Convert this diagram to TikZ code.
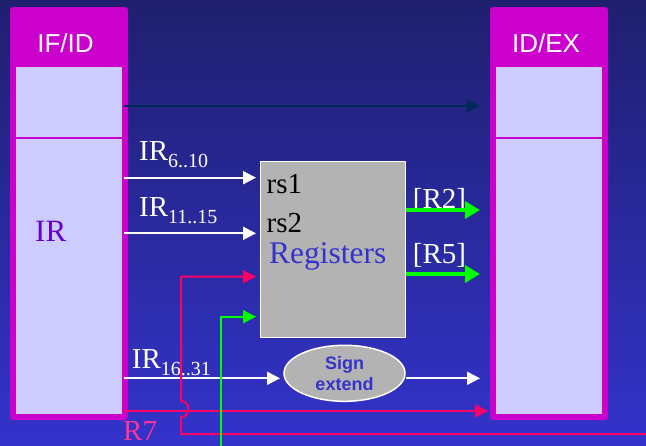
\documentclass[tikz,border=0pt]{standalone}
\usepackage{fontspec}
\setmainfont{Liberation Serif}
\setsansfont{Liberation Sans}
\usetikzlibrary{arrows.meta,positioning,shapes.geometric}
\definecolor{bgtop}{RGB}{31,31,110}
\definecolor{bgbot}{RGB}{51,51,204}
\definecolor{stagemag}{RGB}{204,0,204}
\definecolor{lavender}{RGB}{204,204,255}
\definecolor{unitgray}{RGB}{179,179,179}
\definecolor{regblue}{RGB}{51,51,204}
\definecolor{wirered}{RGB}{255,0,102}
\definecolor{labpink}{RGB}{255,51,153}
\definecolor{wiregreen}{RGB}{0,255,0}
\definecolor{darkwire}{RGB}{0,40,90}
\definecolor{irpurple}{RGB}{102,0,204}
\newcommand{\irsub}[1]{IR\raisebox{-7pt}{\fontsize{20pt}{20pt}\selectfont #1}}

\begin{document}
\begin{tikzpicture}[line join=round,x=1pt,y=-1pt,
  stage/.style={fill=stagemag,rounded corners=3pt,minimum width=118pt,minimum height=413pt,inner sep=0pt},
  slot/.style={fill=lavender,minimum width=106pt,inner sep=0pt},
  unit/.style={fill=unitgray,draw=white,line width=1.5pt,inner sep=0pt},
  head/.style={anchor=base,inner sep=0pt,text=white,font=\sffamily\fontsize{26pt}{26pt}\selectfont},
  txt/.style={anchor=base west,inner sep=0pt,font=\fontsize{29pt}{29pt}\selectfont},
  wire/.style={draw=white,line width=2pt,-{Triangle[length=13pt,width=13pt]}},
  dwire/.style={draw=darkwire,line width=2.5pt,-{Triangle[length=13pt,width=13pt]}},
  gwire/.style={draw=wiregreen,line width=4pt,-{Triangle[length=15pt,width=17pt]}},
  gthin/.style={draw=wiregreen,line width=2pt,-{Triangle[length=13pt,width=13pt]}},
  rwire/.style={draw=wirered,line width=2pt,-{Triangle[length=13pt,width=13pt]}}]
\useasboundingbox (0,0) rectangle (646,445);
\shade[top color=bgtop,bottom color=bgbot] (0,0) rectangle (646,445);
% pipeline registers
\node[stage] (ifid) at (69,213.5) {};
\node[stage] (idex) at (549,213.5) {};
\node[slot,minimum height=70pt] (ifidtop) at (69,102) {};
\node[slot,minimum height=275pt] (ifidir) at (69,276.5) {};
\node[slot,minimum height=70pt] (idextop) at (549,102) {};
\node[slot,minimum height=275pt] (idexlow) at (549,276.5) {};
\node[head] (ifidname) at (65.5,52) {IF/ID};
\node[head] (idexname) at (546,52) {ID/EX};
\node[txt,text=irpurple,font=\fontsize{31pt}{31pt}\selectfont] (irname) at (35,241) {IR};
% register file, sign extension
\node[unit,minimum width=145pt,minimum height=176pt] (regs) at (333,249.7) {};
\node[unit,ellipse,minimum width=121pt,minimum height=56pt,text=regblue,align=center,
  font=\sffamily\bfseries\fontsize{18pt}{21pt}\selectfont] (sext) at (344.5,373.3) {Sign\\extend};
\node[txt] (rsa) at (266.5,193) {rs1};
\node[txt] (rsb) at (266.5,232) {rs2};
\node[txt,text=regblue,font=\fontsize{31.5pt}{31.5pt}\selectfont] (regname) at (269,263) {Registers};
% labels
\node[txt,text=white] (irfirst) at (139,160.7) {\irsub{6..10}};
\node[txt,text=white] (irsecond) at (139,216.7) {\irsub{11..15}};
\node[txt,text=white] (irimm) at (131.7,368) {\irsub{16..31}};
\node[txt,text=white] (rtwo) at (412.7,208.5) {[R2]};
\node[txt,text=white] (rfive) at (412.7,263) {[R5]};
\node[txt,text=labpink] (rseven) at (123,440) {R7};
% wire ends
\coordinate (ifout) at ([xshift=-4pt]ifid.east);
\coordinate (pcend) at (480,106);
\coordinate (rsain) at (256,177.7);
\coordinate (rsbin) at (256,233.3);
\coordinate (wrin) at (256,276.7);
\coordinate (wdin) at (256,316.7);
\coordinate (rtwoend) at (480,210);
\coordinate (rfiveend) at (480,274);
\coordinate (sxin) at (280,378.3);
\coordinate (sxend) at (480,378.3);
\coordinate (rsevenend) at (488,411);
\coordinate (wrsrc) at (646,434);
\coordinate (wdsrc) at (220.7,446);
% wires
\draw[dwire] (ifout |- pcend) -- (pcend);
\draw[wire] (ifout |- rsain) -- (rsain);
\draw[wire] (ifout |- rsbin) -- (rsbin);
\draw[gwire] (regs.east |- rtwoend) -- (rtwoend);
\draw[gwire] (regs.east |- rfiveend) -- (rfiveend);
\draw[wire] (ifout |- sxin) -- (sxin);
\draw[wire] (sext.east |- sxend) -- (sxend);
\draw[rwire] (ifout |- rsevenend) -- (rsevenend);
\draw[rwire] (wrsrc) -- (181,434) -- (181,417) .. controls (191,417) and (191,401) .. (181,401) |- (wrin);
\draw[gthin] (wdsrc) |- (wdin);
\end{tikzpicture}
\end{document}
